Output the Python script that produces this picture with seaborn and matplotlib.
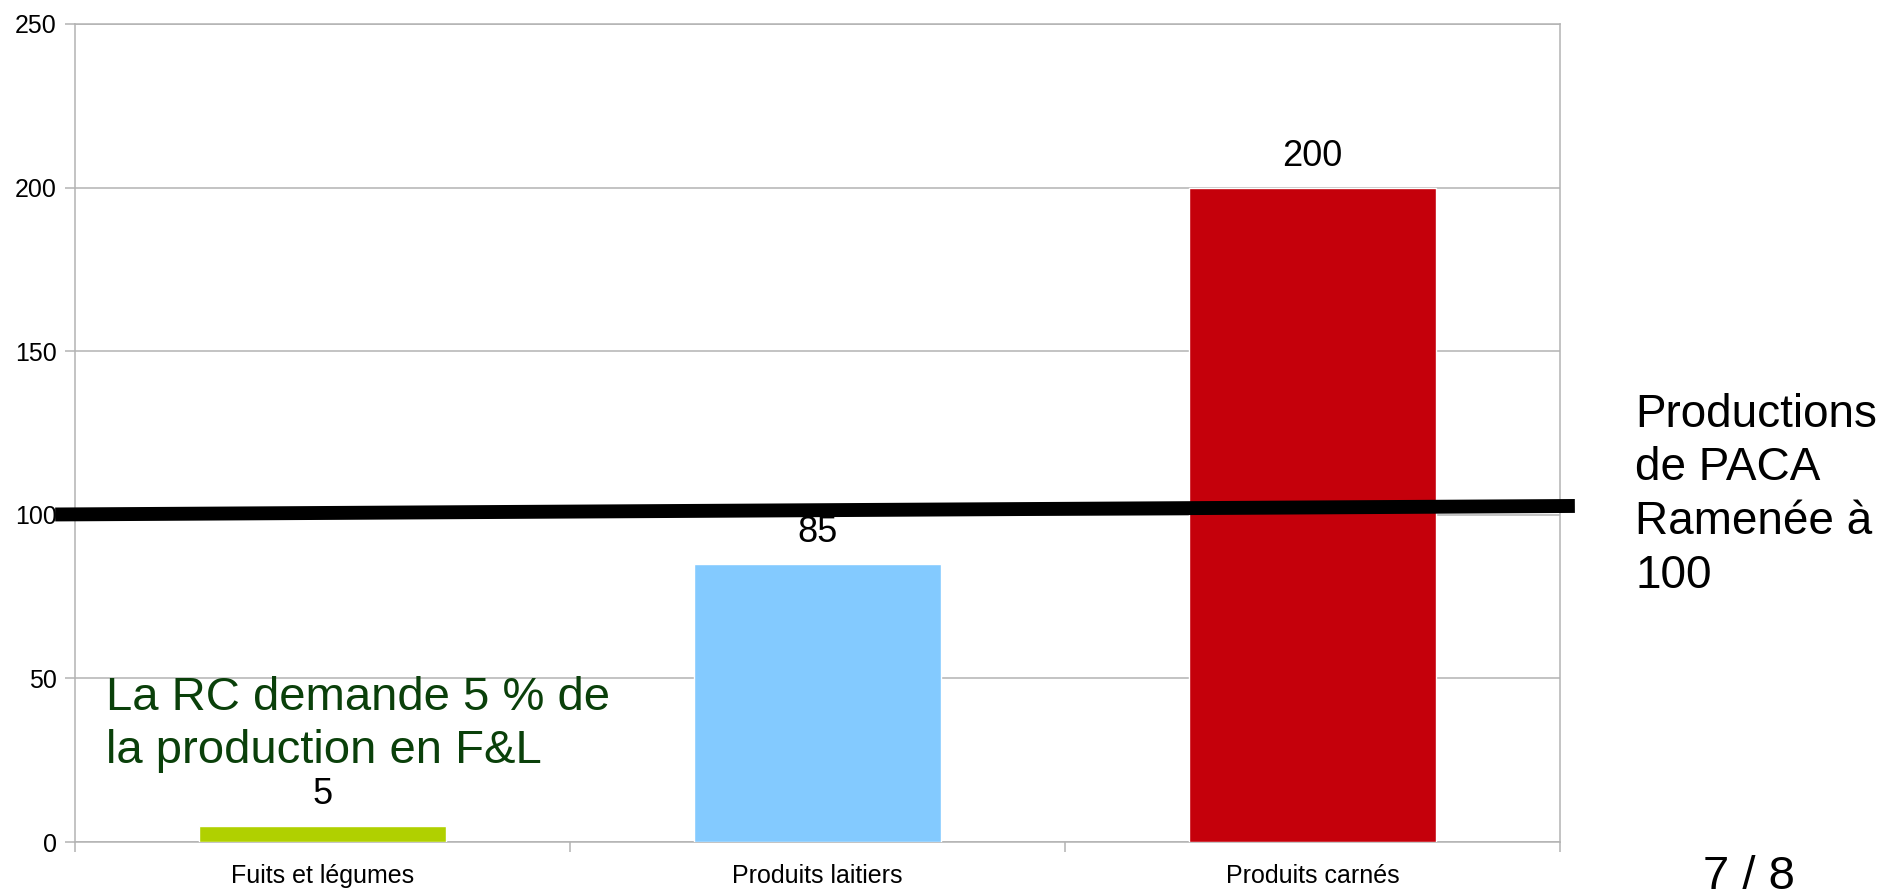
import matplotlib
matplotlib.use("Agg")
import matplotlib.pyplot as plt
import seaborn as sns
import pandas as pd

categories = ["Fuits et légumes", "Produits laitiers", "Produits carnés"]
values = [5, 85, 200]
bar_colors = ["#b0d000", "#83caff", "#c5000b"]
yticks = [0, 50, 100, 150, 200, 250]
ref_line_x = [-0.54, 2.530]
ref_line_y = [100.1, 102.7]

sns.set_theme(style="white")
plt.rcParams['font.family'] = ['Liberation Sans', 'DejaVu Sans']

fig = plt.figure(figsize=(18.92, 8.90), dpi=100)
ax = fig.add_axes([75/1892, 48/890, (1560-75)/1892, (842-24)/890])

df = pd.DataFrame({"cat": categories, "val": values})
sns.barplot(data=df, x="cat", y="val", hue="cat", palette=bar_colors,
            legend=False, width=0.5, ax=ax, saturation=1, zorder=3)

grid_c = "#b3b3b3"
ax.set_ylim(0, 250)
ax.set_xlim(-0.5, 2.5)
ax.set_yticks(yticks)
ax.set_yticklabels([str(v) for v in yticks], fontsize=18, color="black")
ax.yaxis.grid(True, color=grid_c, linewidth=1.1, zorder=0)
ax.set_axisbelow(True)
ax.tick_params(axis="y", length=7, width=1.1, color=grid_c, pad=6, left=True)
ax.set_xticks([0, 1, 2])
ax.set_xticklabels(categories, fontsize=18, color="black")
ax.set_xticks([-0.5, 0.5, 1.5, 2.5], minor=True)
ax.tick_params(axis="x", which="major", length=0, pad=16)
ax.tick_params(axis="x", which="minor", length=7, width=1.1, color=grid_c, bottom=True)
ax.set_xlabel("")
ax.set_ylabel("")
for s in ax.spines.values():
    s.set_color(grid_c)
    s.set_linewidth(1.1)

for i, v in enumerate(values):
    ax.annotate(str(v), (i, v), xytext=(0, 10), textcoords="offset points",
                ha="center", va="bottom", fontsize=26, color="black")

ax.plot(ref_line_x, ref_line_y, color="black", linewidth=10,
        solid_capstyle="butt", clip_on=False, zorder=5)

green = "#0a400a"
fig.text(106/1892, (890-710)/890, "La RC demande 5 % de", fontsize=34,
         color=green, ha="left", va="baseline")
fig.text(106/1892, (890-763)/890, "la production en F&L", fontsize=34,
         color=green, ha="left", va="baseline")

right_lines = ["Productions", "de PACA", "Ramenée à", "100"]
right_base = [427, 480, 534, 588]
for t, b in zip(right_lines, right_base):
    fig.text(1635/1892, (890-b)/890, t, fontsize=33, color="black",
             ha="left", va="baseline")

fig.text(1749/1892, (890-889)/890, "7 / 8", fontsize=34, color="black",
         ha="center", va="baseline")

fig.savefig("out.png", dpi=100)
